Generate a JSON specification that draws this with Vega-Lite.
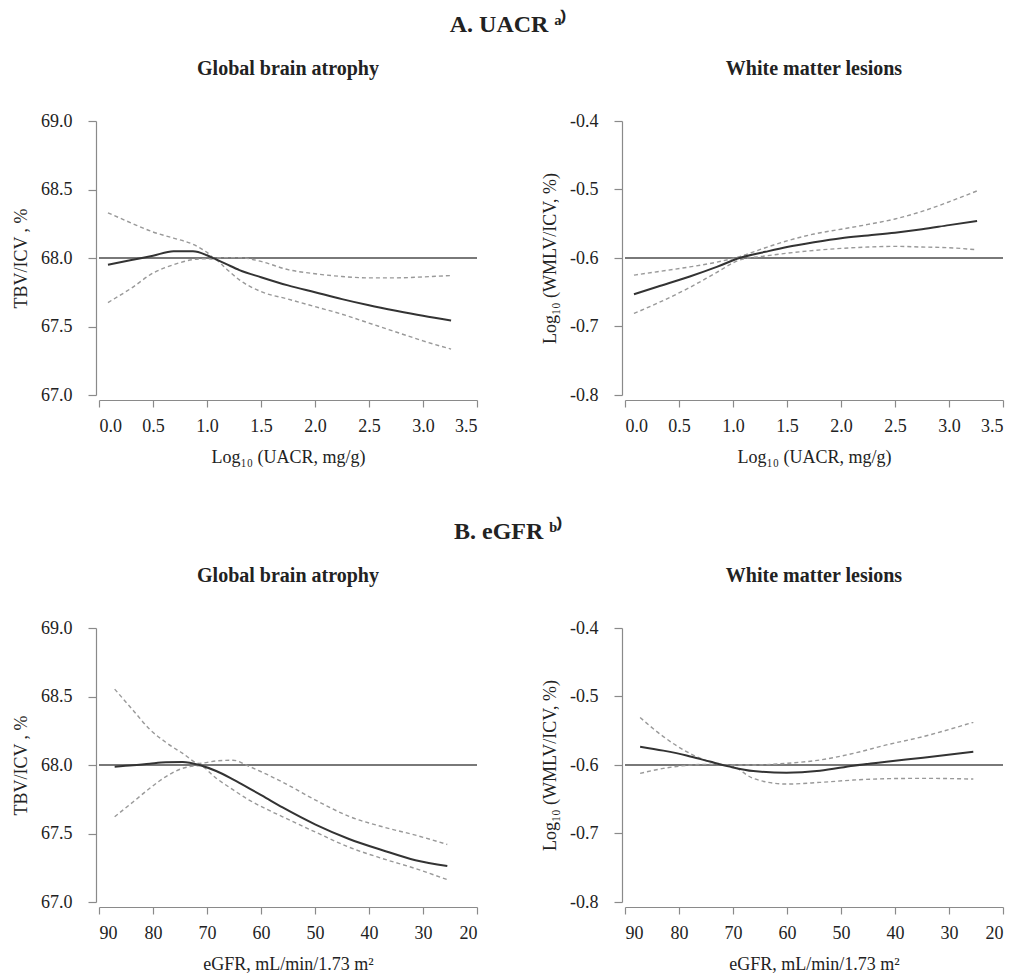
{
  "$schema": "https://vega.github.io/schema/vega-lite/v6.json",
  "padding": {"left": 12, "top": 13, "right": 4, "bottom": 4},
  "spacing": 54,
  "config": {
    "view": {"stroke": null},
    "font": "Liberation Serif",
    "axis": {
      "grid": false,
      "domainColor": "#8a8a8a",
      "tickColor": "#8a8a8a",
      "domainWidth": 1.2,
      "tickWidth": 1.2,
      "labelFont": "Liberation Serif",
      "labelFontSize": 18,
      "labelColor": "#222222",
      "titleFont": "Liberation Serif",
      "titleFontSize": 18,
      "titleFontWeight": "normal",
      "titleColor": "#222222"
    },
    "axisX": {"offset": 5, "tickSize": 7, "labelPadding": 10, "titlePadding": 13},
    "axisY": {"offset": 3, "tickSize": 8, "labelPadding": 16, "titlePadding": 10},
    "title": {"font": "Liberation Serif", "fontWeight": "bold", "color": "#222222"}
  },
  "datasets": {
    "uacr_tbv": [
      {"x": 0.083, "est": 67.95, "hi": 68.33, "lo": 67.675},
      {"x": 0.3, "est": 67.985, "hi": 68.255, "lo": 67.78},
      {"x": 0.5, "est": 68.017, "hi": 68.19, "lo": 67.89},
      {"x": 0.69, "est": 68.049, "hi": 68.145, "lo": 67.951},
      {"x": 0.87, "est": 68.049, "hi": 68.1, "lo": 67.988},
      {"x": 1.0, "est": 68.02, "hi": 68.041, "lo": 67.995},
      {"x": 1.07, "est": 67.995, "hi": 68.0, "lo": 67.99},
      {"x": 1.18, "est": 67.955, "hi": 68.003, "lo": 67.92},
      {"x": 1.3, "est": 67.912, "hi": 68.003, "lo": 67.84},
      {"x": 1.5, "est": 67.86, "hi": 67.975, "lo": 67.755},
      {"x": 1.75, "est": 67.8, "hi": 67.915, "lo": 67.7},
      {"x": 2.0, "est": 67.75, "hi": 67.885, "lo": 67.645},
      {"x": 2.25, "est": 67.7, "hi": 67.865, "lo": 67.59},
      {"x": 2.5, "est": 67.655, "hi": 67.855, "lo": 67.525},
      {"x": 2.75, "est": 67.615, "hi": 67.855, "lo": 67.46},
      {"x": 3.0, "est": 67.578, "hi": 67.862, "lo": 67.395},
      {"x": 3.26, "est": 67.544, "hi": 67.872, "lo": 67.335}
    ],
    "uacr_wml": [
      {"x": 0.083, "est": -0.653, "hi": -0.625, "lo": -0.681},
      {"x": 0.3, "est": -0.642, "hi": -0.62, "lo": -0.666},
      {"x": 0.6, "est": -0.627, "hi": -0.613, "lo": -0.643},
      {"x": 0.85, "est": -0.613, "hi": -0.606, "lo": -0.621},
      {"x": 1.06, "est": -0.6, "hi": -0.598, "lo": -0.603},
      {"x": 1.3, "est": -0.591, "hi": -0.585, "lo": -0.597},
      {"x": 1.5, "est": -0.584, "hi": -0.575, "lo": -0.593},
      {"x": 1.75, "est": -0.577, "hi": -0.565, "lo": -0.589},
      {"x": 2.0, "est": -0.571, "hi": -0.558, "lo": -0.586},
      {"x": 2.25, "est": -0.567, "hi": -0.551, "lo": -0.584},
      {"x": 2.5, "est": -0.563, "hi": -0.543, "lo": -0.583},
      {"x": 2.75, "est": -0.558, "hi": -0.532, "lo": -0.584},
      {"x": 3.0, "est": -0.552, "hi": -0.518, "lo": -0.585},
      {"x": 3.26, "est": -0.546, "hi": -0.502, "lo": -0.588}
    ],
    "egfr_tbv": [
      {"x": 87.1, "est": 67.988, "hi": 68.554, "lo": 67.622},
      {"x": 83.7, "est": 67.998, "hi": 68.4, "lo": 67.73},
      {"x": 80.6, "est": 68.01, "hi": 68.26, "lo": 67.83},
      {"x": 77.6, "est": 68.02, "hi": 68.165, "lo": 67.915},
      {"x": 74.5, "est": 68.022, "hi": 68.085, "lo": 67.976},
      {"x": 71.4, "est": 68.0, "hi": 68.012, "lo": 67.995},
      {"x": 68.3, "est": 67.956, "hi": 68.03, "lo": 67.903},
      {"x": 65.2, "est": 67.895, "hi": 68.035, "lo": 67.82},
      {"x": 62.2, "est": 67.83, "hi": 67.99, "lo": 67.744},
      {"x": 59.1, "est": 67.76, "hi": 67.935, "lo": 67.68},
      {"x": 56.0, "est": 67.69, "hi": 67.875, "lo": 67.622},
      {"x": 49.9, "est": 67.565, "hi": 67.744, "lo": 67.51},
      {"x": 43.7, "est": 67.46, "hi": 67.625, "lo": 67.4},
      {"x": 37.5, "est": 67.378, "hi": 67.549, "lo": 67.317},
      {"x": 31.4, "est": 67.305, "hi": 67.488, "lo": 67.244},
      {"x": 25.5, "est": 67.263, "hi": 67.42, "lo": 67.163}
    ],
    "egfr_wml": [
      {"x": 87.2, "est": -0.5732, "hi": -0.5307, "lo": -0.6122},
      {"x": 82.9, "est": -0.579, "hi": -0.5585, "lo": -0.605},
      {"x": 78.6, "est": -0.586, "hi": -0.5805, "lo": -0.6005},
      {"x": 74.3, "est": -0.595, "hi": -0.5951, "lo": -0.599},
      {"x": 70.6, "est": -0.6024, "hi": -0.6, "lo": -0.6005},
      {"x": 66.25, "est": -0.6088, "hi": -0.6, "lo": -0.6195},
      {"x": 60.1, "est": -0.6112, "hi": -0.5976, "lo": -0.6278},
      {"x": 53.9, "est": -0.6083, "hi": -0.5927, "lo": -0.6254},
      {"x": 47.7, "est": -0.601, "hi": -0.583, "lo": -0.622},
      {"x": 41.6, "est": -0.5951, "hi": -0.5707, "lo": -0.62},
      {"x": 34.8, "est": -0.5893, "hi": -0.5585, "lo": -0.6195},
      {"x": 25.5, "est": -0.5805, "hi": -0.5376, "lo": -0.6205}
    ]
  },
  "vconcat": [
    {
      "title": {"text": "A. UACR ᵃ⁾", "font": "Liberation Serif", "fontSize": 24, "anchor": "middle", "offset": 22},
      "spacing": 63,
      "hconcat": [
        {
          "width": 378, "height": 274,
          "title": {"text": "Global brain atrophy", "font": "Liberation Serif", "fontSize": 20, "anchor": "middle", "offset": 33},
          "data": {"name": "uacr_tbv"},
          "layer": [
            {"mark": {"type": "rule", "color": "#7a7a7a", "strokeWidth": 1.3},
             "encoding": {"y": {"datum": 68, "type": "quantitative", "scale": {"domain": [67, 69], "nice": false, "zero": false}}}},
            {"mark": {"type": "line", "color": "#999999", "strokeWidth": 1.4, "strokeDash": [4, 3], "interpolate": "monotone"},
             "encoding": {
               "x": {"field": "x", "type": "quantitative", "title": "Log₁₀ (UACR, mg/g)",
                     "scale": {"domain": [0, 3.5], "nice": false, "zero": false},
                     "axis": {"values": [0, 0.5, 1, 1.5, 2, 2.5, 3, 3.5], "format": ".1f"}},
               "y": {"field": "hi", "type": "quantitative", "title": "TBV/ICV , %", "scale": {"domain": [67, 69], "nice": false, "zero": false},
                     "axis": {"values": [67, 67.5, 68, 68.5, 69], "format": ".1f"}}}},
            {"mark": {"type": "line", "color": "#999999", "strokeWidth": 1.4, "strokeDash": [4, 3], "interpolate": "monotone"},
             "encoding": {"x": {"field": "x", "type": "quantitative", "title": "Log₁₀ (UACR, mg/g)"},
                          "y": {"field": "lo", "type": "quantitative", "title": "TBV/ICV , %"}}},
            {"mark": {"type": "line", "color": "#333333", "strokeWidth": 2, "interpolate": "monotone"},
             "encoding": {"x": {"field": "x", "type": "quantitative", "title": "Log₁₀ (UACR, mg/g)"},
                          "y": {"field": "est", "type": "quantitative", "title": "TBV/ICV , %"}}}
          ]
        },
        {
          "width": 378, "height": 274,
          "title": {"text": "White matter lesions", "font": "Liberation Serif", "fontSize": 20, "anchor": "middle", "offset": 33},
          "data": {"name": "uacr_wml"},
          "layer": [
            {"mark": {"type": "rule", "color": "#7a7a7a", "strokeWidth": 1.3},
             "encoding": {"y": {"datum": -0.6, "type": "quantitative", "scale": {"domain": [-0.8, -0.4], "nice": false, "zero": false}}}},
            {"mark": {"type": "line", "color": "#999999", "strokeWidth": 1.4, "strokeDash": [4, 3], "interpolate": "monotone"},
             "encoding": {
               "x": {"field": "x", "type": "quantitative", "title": "Log₁₀ (UACR, mg/g)",
                     "scale": {"domain": [0, 3.5], "nice": false, "zero": false},
                     "axis": {"values": [0, 0.5, 1, 1.5, 2, 2.5, 3, 3.5], "format": ".1f"}},
               "y": {"field": "hi", "type": "quantitative", "title": "Log₁₀ (WMLV/ICV, %)", "scale": {"domain": [-0.8, -0.4], "nice": false, "zero": false},
                     "axis": {"values": [-0.8, -0.7, -0.6, -0.5, -0.4], "format": ".1f", "labelExpr": "replace(datum.label, '−', '-')"}}}},
            {"mark": {"type": "line", "color": "#999999", "strokeWidth": 1.4, "strokeDash": [4, 3], "interpolate": "monotone"},
             "encoding": {"x": {"field": "x", "type": "quantitative", "title": "Log₁₀ (UACR, mg/g)"},
                          "y": {"field": "lo", "type": "quantitative", "title": "Log₁₀ (WMLV/ICV, %)"}}},
            {"mark": {"type": "line", "color": "#333333", "strokeWidth": 2, "interpolate": "monotone"},
             "encoding": {"x": {"field": "x", "type": "quantitative", "title": "Log₁₀ (UACR, mg/g)"},
                          "y": {"field": "est", "type": "quantitative", "title": "Log₁₀ (WMLV/ICV, %)"}}}
          ]
        }
      ]
    },
    {
      "title": {"text": "B. eGFR ᵇ⁾", "font": "Liberation Serif", "fontSize": 24, "anchor": "middle", "offset": 22},
      "spacing": 63,
      "hconcat": [
        {
          "width": 378, "height": 274,
          "title": {"text": "Global brain atrophy", "font": "Liberation Serif", "fontSize": 20, "anchor": "middle", "offset": 33},
          "data": {"name": "egfr_tbv"},
          "layer": [
            {"mark": {"type": "rule", "color": "#7a7a7a", "strokeWidth": 1.3},
             "encoding": {"y": {"datum": 68, "type": "quantitative", "scale": {"domain": [67, 69], "nice": false, "zero": false}}}},
            {"mark": {"type": "line", "color": "#999999", "strokeWidth": 1.4, "strokeDash": [4, 3], "interpolate": "monotone"},
             "encoding": {
               "x": {"field": "x", "type": "quantitative", "title": "eGFR, mL/min/1.73 m²",
                     "scale": {"domain": [20, 90], "nice": false, "zero": false, "reverse": true},
                     "axis": {"values": [20, 30, 40, 50, 60, 70, 80, 90], "format": "d"}},
               "y": {"field": "hi", "type": "quantitative", "title": "TBV/ICV , %", "scale": {"domain": [67, 69], "nice": false, "zero": false},
                     "axis": {"values": [67, 67.5, 68, 68.5, 69], "format": ".1f"}}}},
            {"mark": {"type": "line", "color": "#999999", "strokeWidth": 1.4, "strokeDash": [4, 3], "interpolate": "monotone"},
             "encoding": {"x": {"field": "x", "type": "quantitative", "title": "eGFR, mL/min/1.73 m²"},
                          "y": {"field": "lo", "type": "quantitative", "title": "TBV/ICV , %"}}},
            {"mark": {"type": "line", "color": "#333333", "strokeWidth": 2, "interpolate": "monotone"},
             "encoding": {"x": {"field": "x", "type": "quantitative", "title": "eGFR, mL/min/1.73 m²"},
                          "y": {"field": "est", "type": "quantitative", "title": "TBV/ICV , %"}}}
          ]
        },
        {
          "width": 378, "height": 274,
          "title": {"text": "White matter lesions", "font": "Liberation Serif", "fontSize": 20, "anchor": "middle", "offset": 33},
          "data": {"name": "egfr_wml"},
          "layer": [
            {"mark": {"type": "rule", "color": "#7a7a7a", "strokeWidth": 1.3},
             "encoding": {"y": {"datum": -0.6, "type": "quantitative", "scale": {"domain": [-0.8, -0.4], "nice": false, "zero": false}}}},
            {"mark": {"type": "line", "color": "#999999", "strokeWidth": 1.4, "strokeDash": [4, 3], "interpolate": "monotone"},
             "encoding": {
               "x": {"field": "x", "type": "quantitative", "title": "eGFR, mL/min/1.73 m²",
                     "scale": {"domain": [20, 90], "nice": false, "zero": false, "reverse": true},
                     "axis": {"values": [20, 30, 40, 50, 60, 70, 80, 90], "format": "d"}},
               "y": {"field": "hi", "type": "quantitative", "title": "Log₁₀ (WMLV/ICV, %)", "scale": {"domain": [-0.8, -0.4], "nice": false, "zero": false},
                     "axis": {"values": [-0.8, -0.7, -0.6, -0.5, -0.4], "format": ".1f", "labelExpr": "replace(datum.label, '−', '-')"}}}},
            {"mark": {"type": "line", "color": "#999999", "strokeWidth": 1.4, "strokeDash": [4, 3], "interpolate": "monotone"},
             "encoding": {"x": {"field": "x", "type": "quantitative", "title": "eGFR, mL/min/1.73 m²"},
                          "y": {"field": "lo", "type": "quantitative", "title": "Log₁₀ (WMLV/ICV, %)"}}},
            {"mark": {"type": "line", "color": "#333333", "strokeWidth": 2, "interpolate": "monotone"},
             "encoding": {"x": {"field": "x", "type": "quantitative", "title": "eGFR, mL/min/1.73 m²"},
                          "y": {"field": "est", "type": "quantitative", "title": "Log₁₀ (WMLV/ICV, %)"}}}
          ]
        }
      ]
    }
  ]
}
